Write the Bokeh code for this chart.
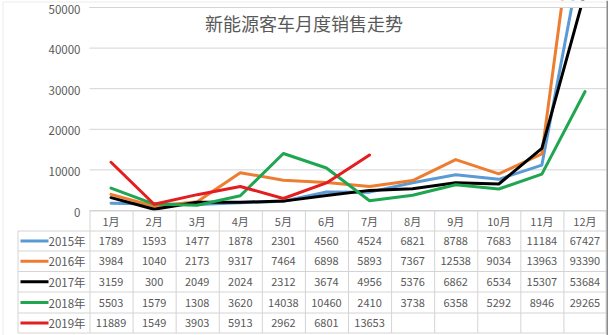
from bokeh.plotting import figure
from bokeh.models import Range1d, Label
from bokeh.embed import file_html
from bokeh.resources import INLINE
from bokeh.core.properties import value

# ---------------- data ----------------
title_text = "新能源客车月度销售走势"
months = ["1月", "2月", "3月", "4月", "5月", "6月", "7月", "8月", "9月", "10月", "11月", "12月"]
years = ["2015年", "2016年", "2017年", "2018年", "2019年"]
s2015 = [1789, 1593, 1477, 1878, 2301, 4560, 4524, 6821, 8788, 7683, 11184, 67427]
s2016 = [3984, 1040, 2173, 9317, 7464, 6898, 5893, 7367, 12538, 9034, 13963, 93390]
s2017 = [3159, 300, 2049, 2024, 2312, 3674, 4956, 5376, 6862, 6534, 15307, 53684]
s2018 = [5503, 1579, 1308, 3620, 14038, 10460, 2410, 3738, 6358, 5292, 8946, 29265]
s2019 = [11889, 1549, 3903, 5913, 2962, 6801, 13653]
y_ticks = [0, 10000, 20000, 30000, 40000, 50000]

# ---------------- style / layout ----------------
series = [s2015, s2016, s2017, s2018, s2019]
colors = ["#5B9BD5", "#ED7D31", "#000000", "#1FA650", "#E41E20"]
FONT = "Noto Sans CJK SC"
TXT = "#595959"
GRID = "#D4D4D4"

W, H = 608, 335
PL, PR = 89, 606          # plot area (page px)
PT, PB = 7, 210           # plot area top (50000) / bottom (0)
TL, TB = 17, 333          # table left / bottom
ncol = len(months)
colw = (PR - PL) / ncol
YMAX = y_ticks[-1]
k = (PB - PT) / YMAX      # px per data unit


def ypx(py):
    """page pixel row -> data y"""
    return (PB - py) / k


def xpx(px):
    """page pixel column -> data x"""
    return (px - PL) / colw


p = figure(width=W, height=H, output_backend="svg", toolbar_location=None,
           x_range=Range1d(xpx(0), xpx(W)), y_range=Range1d(ypx(H), ypx(0)),
           min_border_left=0, min_border_right=0,
           min_border_top=0, min_border_bottom=0,
           x_axis_type=None, y_axis_type=None)
p.outline_line_color = None
p.grid.visible = False

# value gridlines
p.segment(x0=[0] * len(y_ticks), y0=y_ticks, x1=[ncol] * len(y_ticks), y1=y_ticks,
          line_color=GRID, line_width=1)

xs = [i + 0.5 for i in range(ncol)]

# series lines
for s, c in zip(series, colors):
    p.line(xs[:len(s)], s, line_color=c, line_width=3, line_join="round", line_cap="round")

# clip everything above the top of the value axis
p.quad(left=[xpx(0)], right=[xpx(W)], bottom=[YMAX + 0.6 / k], top=[ypx(0)],
       fill_color="white", line_color=None)
p.segment(x0=[0], y0=[YMAX], x1=[ncol], y1=[YMAX], line_color=GRID, line_width=1)

# tick labels
p.text(x=[xpx(80)] * len(y_ticks), y=y_ticks, text=[str(v) for v in y_ticks],
       text_align="right", text_baseline="middle", text_font=value(FONT),
       text_font_size="11.5px", text_color=TXT, y_offset=1.5)

# title
p.add_layout(Label(x=xpx(303.5), y=ypx(22.5), text=title_text, text_align="center",
                   text_baseline="middle", text_font=FONT, text_font_size="18px",
                   text_color=TXT))

# ---------------- data table ----------------
row_edges = [210.5, 230.5, 250.5, 271, 291.5, 312.5, 332.5]
ry = [ypx(v) for v in row_edges]
hx0 = [0] + [xpx(TL + 0.5)] * (len(ry) - 1)
p.segment(x0=hx0, y0=ry, x1=[ncol] * len(ry), y1=ry, line_color=GRID, line_width=1)
vx = [xpx(TL + 0.5)] + [i + 0.5 / colw for i in range(ncol)] + [ncol - 0.5 / colw]
vy0 = [ry[1]] + [ry[0]] * ncol + [ry[0]]
p.segment(x0=vx, y0=vy0, x1=vx, y1=[ry[-1]] * len(vx), line_color=GRID, line_width=1)

centers = [(ry[i] + ry[i + 1]) / 2 for i in range(len(ry) - 1)]
p.text(x=xs, y=[centers[0]] * ncol, text=months, text_align="center",
       text_baseline="middle", text_font=value(FONT), text_font_size="11px",
       text_color=TXT)
sw0, sw1 = xpx(20), xpx(48)
for r, (yr, s, c) in enumerate(zip(years, series, colors)):
    cy = centers[r + 1]
    p.text(x=xs[:len(s)], y=[cy] * len(s), text=[str(v) for v in s],
           text_align="center", text_baseline="middle", text_font=value(FONT),
           text_font_size="11px", text_color=TXT)
    p.segment(x0=[sw0], y0=[cy], x1=[sw1], y1=[cy], line_color=c, line_width=3)
    p.text(x=[sw1], y=[cy], text=[yr], text_align="left", text_baseline="middle",
           text_font=value(FONT), text_font_size="11.5px", text_color=TXT)

# chart-area border (faint left/top, darker right edge)
p.segment(x0=[xpx(2.5), xpx(2.5)], y0=[ypx(1.5), ypx(1.5)],
          x1=[xpx(2.5), xpx(W)], y1=[ypx(H), ypx(1.5)],
          line_color="#EBEBEB", line_width=1)
p.segment(x0=[xpx(607)], y0=[ypx(0)], x1=[xpx(607)], y1=[ypx(H)],
          line_color="#8A8A8A", line_width=2)

open("out.html", "w").write(file_html(p, INLINE))
